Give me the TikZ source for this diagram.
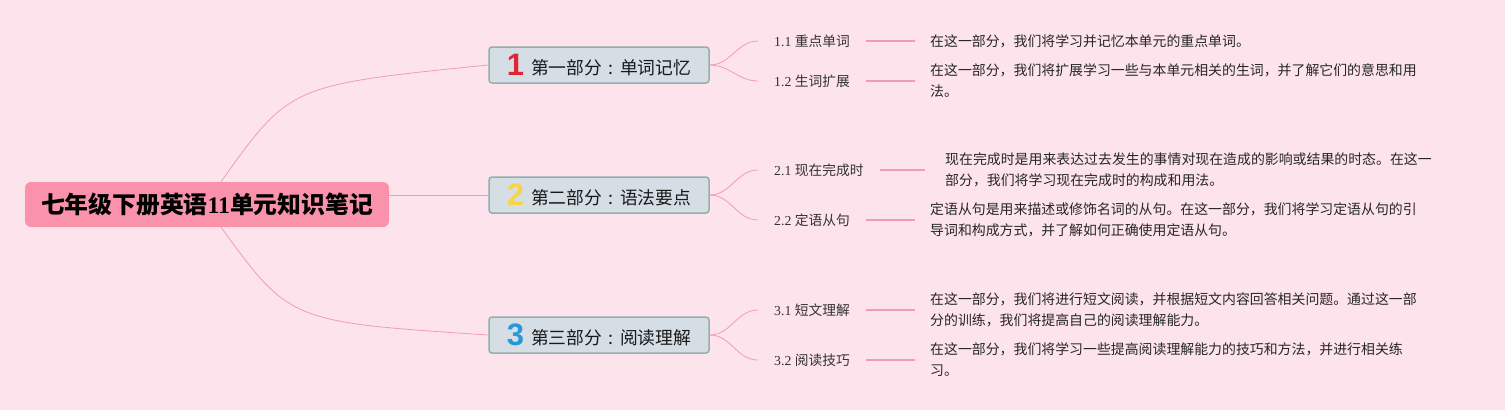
\documentclass[tikz,border=0pt]{standalone}
\usepackage{fontspec}
\usepackage{xcolor}
\setmainfont{Liberation Serif}
\newfontfamily\cjk{Noto Sans CJK SC}
\newfontfamily\numfont{Liberation Sans}
\usetikzlibrary{positioning}

\definecolor{bgpink}{RGB}{253,228,236}
\definecolor{rootpink}{RGB}{249,146,170}
\definecolor{topicfill}{RGB}{213,221,229}
\definecolor{topicedge}{RGB}{150,174,174}
\definecolor{linkpink}{RGB}{242,155,180}
\definecolor{numred}{RGB}{224,38,52}
\definecolor{numyellow}{RGB}{246,214,72}
\definecolor{numblue}{RGB}{38,152,216}

\newcommand\topicnum[2]{{\numfont\bfseries\fontsize{31}{31}\selectfont\color{#1}\raisebox{-1pt}{#2}}\hspace{7pt}}
\newcommand\wcolon{\makebox[1em][c]{:}}

\begin{document}
\begin{tikzpicture}[x=1pt, y=-1pt,
    rootbox/.style={fill=rootpink, rounded corners=6pt, minimum width=364pt, minimum height=45pt, inner sep=0pt, font=\cjk\bfseries\fontsize{23.8}{24}\selectfont},
    topicbox/.style={draw=topicedge, line width=1.5pt, fill=topicfill, rounded corners=3pt, minimum width=220pt, minimum height=36pt, inner sep=0pt, font=\cjk\fontsize{17.8}{18}\selectfont, text=black!90},
    subtopic/.style={anchor=west, inner xsep=16pt, font=\fontsize{13.75}{14}\selectfont, text=black!80},
    note/.style={anchor=west, inner xsep=15pt, align=left, font=\cjk\fontsize{13.9}{21}\selectfont, text=black!85},
    branch/.style={draw=linkpink, line width=0.8pt},
    leaf/.style={draw=linkpink, line width=1.4pt},
]

% Background
\fill[bgpink] (0,0) rectangle (1505,410);
\useasboundingbox (0,0) rectangle (1505,410);

% Root
\node[rootbox] (root) at (207,204.5) {七年级下册英语{\rmfamily 11}单元知识笔记};

% Main topics
\node[topicbox] (t1) at (599,65) {\topicnum{numred}{1}第一部分\wcolon 单词记忆};
\node[topicbox] (t2) at (599,195) {\topicnum{numyellow}{2}第二部分\wcolon 语法要点};
\node[topicbox] (t3) at (599,335) {\topicnum{numblue}{3}第三部分\wcolon 阅读理解};

% Subtopics
\node[subtopic] (s11) at (758,41) {1.1 {\cjk 重点单词}};
\node[subtopic] (s12) at (758,81) {1.2 {\cjk 生词扩展}};
\node[subtopic] (s21) at (758,170) {2.1 {\cjk 现在完成时}};
\node[subtopic] (s22) at (758,220) {2.2 {\cjk 定语从句}};
\node[subtopic] (s31) at (758,310) {3.1 {\cjk 短文理解}};
\node[subtopic] (s32) at (758,360) {3.2 {\cjk 阅读技巧}};

% Notes
\node[note] (n11) at (915,41) {在这一部分，我们将学习并记忆本单元的重点单词。};
\node[note] (n12) at (915,81) {在这一部分，我们将扩展学习一些与本单元相关的生词，并了解它们的意思和用\\法。};
\node[note, inner xsep=20pt] (n21) at (925,170) {现在完成时是用来表达过去发生的事情对现在造成的影响或结果的时态。在这一\\部分，我们将学习现在完成时的构成和用法。};
\node[note] (n22) at (915,220) {定语从句是用来描述或修饰名词的从句。在这一部分，我们将学习定语从句的引\\导词和构成方式，并了解如何正确使用定语从句。};
\node[note] (n31) at (915,310) {在这一部分，我们将进行短文阅读，并根据短文内容回答相关问题。通过这一部\\分的训练，我们将提高自己的阅读理解能力。};
\node[note] (n32) at (915,360) {在这一部分，我们将学习一些提高阅读理解能力的技巧和方法，并进行相关练\\习。};

% Root to topics
\draw[branch] ([xshift=14pt]root.north) .. controls (290,85) .. (t1.west);
\draw[branch] (t2.west -| root.east) -- (t2.west);
\draw[branch] ([xshift=14pt]root.south) .. controls (290,322) .. (t3.west);

% Topics to subtopics
\draw[branch] (t1.east) to[out=0, in=180] (s11.west);
\draw[branch] (t1.east) to[out=0, in=180] (s12.west);
\draw[branch] (t2.east) to[out=0, in=180] (s21.west);
\draw[branch] (t2.east) to[out=0, in=180] (s22.west);
\draw[branch] (t3.east) to[out=0, in=180] (s31.west);
\draw[branch] (t3.east) to[out=0, in=180] (s32.west);

% Subtopics to notes
\draw[leaf] (s11.east) -- (n11.west);
\draw[leaf] (s12.east) -- (n12.west);
\draw[leaf] (s21.east) -- (n21.west);
\draw[leaf] (s22.east) -- (n22.west);
\draw[leaf] (s31.east) -- (n31.west);
\draw[leaf] (s32.east) -- (n32.west);

\end{tikzpicture}
\end{document}
